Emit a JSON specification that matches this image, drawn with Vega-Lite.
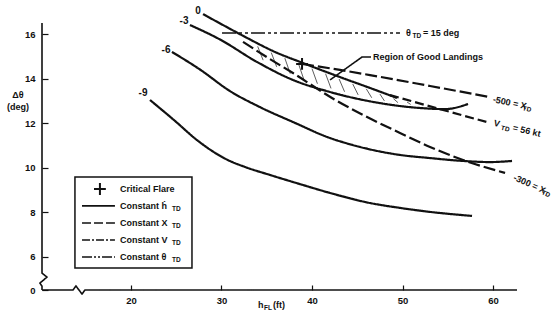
{
  "$schema": "https://vega.github.io/schema/vega-lite/v6.json",
  "width": 475,
  "height": 267,
  "autosize": {"type": "none"},
  "padding": {"left": 42, "top": 23, "right": 36, "bottom": 26},
  "background": "white",
  "config": {"view": {"stroke": null}},
  "datasets": {
    "curves": [
      {"id": "h0", "kind": "h", "x": 27.96, "y": 16.9},
      {"id": "h0", "kind": "h", "x": 31.16, "y": 16.19},
      {"id": "h0", "kind": "h", "x": 32.82, "y": 15.83},
      {"id": "h0", "kind": "h", "x": 35.91, "y": 15.2},
      {"id": "h0", "kind": "h", "x": 39.01, "y": 14.7},
      {"id": "h0", "kind": "h", "x": 43.09, "y": 14.07},
      {"id": "h0", "kind": "h", "x": 46.41, "y": 13.58},
      {"id": "h0", "kind": "h", "x": 49.39, "y": 13.13},
      {"id": "h3", "kind": "h", "x": 26.52, "y": 16.41},
      {"id": "h3", "kind": "h", "x": 29.83, "y": 15.76},
      {"id": "h3", "kind": "h", "x": 33.92, "y": 14.75},
      {"id": "h3", "kind": "h", "x": 37.9, "y": 13.94},
      {"id": "h3", "kind": "h", "x": 41.99, "y": 13.4},
      {"id": "h3", "kind": "h", "x": 47.51, "y": 12.9},
      {"id": "h3", "kind": "h", "x": 51.93, "y": 12.68},
      {"id": "h3", "kind": "h", "x": 54.7, "y": 12.63},
      {"id": "h3", "kind": "h", "x": 57.24, "y": 12.86},
      {"id": "h6", "kind": "h", "x": 24.53, "y": 15.2},
      {"id": "h6", "kind": "h", "x": 27.62, "y": 14.41},
      {"id": "h6", "kind": "h", "x": 30.94, "y": 13.44},
      {"id": "h6", "kind": "h", "x": 34.25, "y": 12.72},
      {"id": "h6", "kind": "h", "x": 38.12, "y": 12.01},
      {"id": "h6", "kind": "h", "x": 41.66, "y": 11.38},
      {"id": "h6", "kind": "h", "x": 45.3, "y": 10.93},
      {"id": "h6", "kind": "h", "x": 49.72, "y": 10.57},
      {"id": "h6", "kind": "h", "x": 53.04, "y": 10.43},
      {"id": "h6", "kind": "h", "x": 56.69, "y": 10.3},
      {"id": "h6", "kind": "h", "x": 59.67, "y": 10.25},
      {"id": "h6", "kind": "h", "x": 62.1, "y": 10.3},
      {"id": "h9", "kind": "h", "x": 22.1, "y": 13.04},
      {"id": "h9", "kind": "h", "x": 24.86, "y": 12.1},
      {"id": "h9", "kind": "h", "x": 27.29, "y": 11.24},
      {"id": "h9", "kind": "h", "x": 30.61, "y": 10.36},
      {"id": "h9", "kind": "h", "x": 32.6, "y": 10.03},
      {"id": "h9", "kind": "h", "x": 35.36, "y": 9.67},
      {"id": "h9", "kind": "h", "x": 38.67, "y": 9.26},
      {"id": "h9", "kind": "h", "x": 41.66, "y": 8.9},
      {"id": "h9", "kind": "h", "x": 46.41, "y": 8.41},
      {"id": "h9", "kind": "h", "x": 49.72, "y": 8.19},
      {"id": "h9", "kind": "h", "x": 53.04, "y": 8.01},
      {"id": "h9", "kind": "h", "x": 57.68, "y": 7.83},
      {"id": "x300", "kind": "x", "x": 32.38, "y": 15.65},
      {"id": "x300", "kind": "x", "x": 35.36, "y": 14.88},
      {"id": "x300", "kind": "x", "x": 37.9, "y": 14.25},
      {"id": "x300", "kind": "x", "x": 42.21, "y": 13.13},
      {"id": "x300", "kind": "x", "x": 45.86, "y": 12.32},
      {"id": "x300", "kind": "x", "x": 49.72, "y": 11.56},
      {"id": "x300", "kind": "x", "x": 53.04, "y": 10.93},
      {"id": "x300", "kind": "x", "x": 56.69, "y": 10.34},
      {"id": "x300", "kind": "x", "x": 61.33, "y": 9.76},
      {"id": "x500", "kind": "x", "x": 38.9, "y": 14.66},
      {"id": "x500", "kind": "x", "x": 43.09, "y": 14.39},
      {"id": "x500", "kind": "x", "x": 46.41, "y": 14.16},
      {"id": "x500", "kind": "x", "x": 53.04, "y": 13.67},
      {"id": "x500", "kind": "x", "x": 59.67, "y": 13.17},
      {"id": "v56", "kind": "v", "x": 48.62, "y": 13.26},
      {"id": "v56", "kind": "v", "x": 54.14, "y": 12.63},
      {"id": "v56", "kind": "v", "x": 59.67, "y": 12.01}
    ],
    "straight": [
      {"id": "ya", "kind": "h", "o": 1, "x": 10.17, "y": 16.5},
      {"id": "ya", "kind": "h", "o": 2, "x": 10.17, "y": 5.26},
      {"id": "ya", "kind": "h", "o": 3, "x": 10.72, "y": 5.08},
      {"id": "ya", "kind": "h", "o": 4, "x": 9.94, "y": 4.81},
      {"id": "ya", "kind": "h", "o": 5, "x": 10.17, "y": 4.67},
      {"id": "ya", "kind": "h", "o": 6, "x": 10.17, "y": 4.5},
      {"id": "xa", "kind": "h", "o": 1, "x": 10.17, "y": 4.5},
      {"id": "xa", "kind": "h", "o": 2, "x": 13.59, "y": 4.5},
      {"id": "xa", "kind": "h", "o": 3, "x": 13.92, "y": 4.68},
      {"id": "xa", "kind": "h", "o": 4, "x": 14.59, "y": 4.32},
      {"id": "xa", "kind": "h", "o": 5, "x": 14.92, "y": 4.5},
      {"id": "xa", "kind": "h", "o": 6, "x": 62.65, "y": 4.5},
      {"id": "ld", "kind": "h", "o": 1, "x": 41.99, "y": 13.94},
      {"id": "ld", "kind": "h", "o": 2, "x": 45.52, "y": 14.97},
      {"id": "ld", "kind": "h", "o": 3, "x": 46.52, "y": 14.97},
      {"id": "th", "kind": "t", "o": 1, "x": 30.06, "y": 16.05},
      {"id": "th", "kind": "t", "o": 2, "x": 49.72, "y": 16.05},
      {"id": "lh", "kind": "h", "o": 1, "x": 14.59, "y": 8.28},
      {"id": "lh", "kind": "h", "o": 2, "x": 18.23, "y": 8.28},
      {"id": "lx", "kind": "xl", "o": 1, "x": 14.59, "y": 7.51},
      {"id": "lx", "kind": "xl", "o": 2, "x": 18.23, "y": 7.51},
      {"id": "lv", "kind": "vl", "o": 1, "x": 14.59, "y": 6.75},
      {"id": "lv", "kind": "vl", "o": 2, "x": 18.23, "y": 6.75},
      {"id": "lt", "kind": "tl", "o": 1, "x": 14.59, "y": 5.98},
      {"id": "lt", "kind": "tl", "o": 2, "x": 18.23, "y": 5.98}
    ],
    "hatch": [
      {"x": 34.0, "y": 15.45, "x2": 34.6, "y2": 14.83},
      {"x": 35.5, "y": 15.17, "x2": 36.1, "y2": 14.53},
      {"x": 37.0, "y": 14.92, "x2": 37.6, "y2": 14.22},
      {"x": 38.5, "y": 14.68, "x2": 39.1, "y2": 13.96},
      {"x": 40.0, "y": 14.45, "x2": 40.6, "y2": 13.77},
      {"x": 41.5, "y": 14.22, "x2": 42.1, "y2": 13.56},
      {"x": 43.0, "y": 13.98, "x2": 43.6, "y2": 13.41},
      {"x": 44.5, "y": 13.76, "x2": 45.1, "y2": 13.27},
      {"x": 46.0, "y": 13.54, "x2": 46.6, "y2": 13.14},
      {"x": 47.5, "y": 13.31, "x2": 48.0, "y2": 13.0},
      {"x": 49.0, "y": 13.1, "x2": 49.5, "y2": 12.92},
      {"x": 50.5, "y": 12.95, "x2": 50.9, "y2": 12.84}
    ],
    "plus": [
      {"x": 38.9, "y": 14.66},
      {"x": 16.57, "y": 9.04}
    ],
    "box": [
      {"x": 13.81, "y": 9.58, "x2": 26.74, "y2": 5.49}
    ],
    "curveLabels": [
      {"x": 27.4, "y": 17.04, "t": "0"},
      {"x": 25.86, "y": 16.59, "t": "-3"},
      {"x": 23.87, "y": 15.29, "t": "-6"},
      {"x": 21.33, "y": 13.35, "t": "-9"}
    ],
    "textLeft": [
      {"x": 18.78, "y": 9.04, "t": "Critical Flare"},
      {"x": 18.78, "y": 8.28, "t": "Constant ḣ"},
      {"x": 18.78, "y": 7.51, "t": "Constant X"},
      {"x": 18.78, "y": 6.75, "t": "Constant V"},
      {"x": 18.78, "y": 5.98, "t": "Constant θ"},
      {"x": 50.39, "y": 16.05, "t": "θ"},
      {"x": 52.27, "y": 16.05, "t": "= 15 deg"},
      {"x": 46.74, "y": 14.97, "t": "Region of Good Landings"},
      {"x": 34.03, "y": 3.83, "t": "h"},
      {"x": 35.69, "y": 3.83, "t": "(ft)"}
    ],
    "textCenter": [
      {"x": 7.51, "y": 13.26, "t": "Δθ"},
      {"x": 7.51, "y": 12.72, "t": "(deg)"}
    ],
    "subs": [
      {"x": 24.53, "y": 8.14, "t": "TD"},
      {"x": 24.53, "y": 7.38, "t": "TD"},
      {"x": 24.53, "y": 6.61, "t": "TD"},
      {"x": 24.53, "y": 5.85, "t": "TD"},
      {"x": 51.1, "y": 15.92, "t": "TD"},
      {"x": 34.7, "y": 3.69, "t": "FL"}
    ],
    "rot12": [
      {"x": 60.0, "y": 13.08, "t": "-500 = X"}
    ],
    "rot12s": [
      {"x": 63.28, "y": 12.67, "t": "TD"}
    ],
    "rot13": [
      {"x": 60.11, "y": 12.01, "t": "V"},
      {"x": 62.2, "y": 11.8, "t": "= 56 kt"}
    ],
    "rot13s": [
      {"x": 60.89, "y": 11.79, "t": "TD"}
    ],
    "rot24": [
      {"x": 62.32, "y": 9.58, "t": "-300 = X"}
    ],
    "rot24s": [
      {"x": 65.41, "y": 8.9, "t": "TD"}
    ]
  },
  "encoding": {
    "x": {
      "field": "x", "type": "quantitative",
      "scale": {"domain": [10.17, 62.65], "nice": false, "zero": false},
      "axis": {
        "values": [20, 30, 40, 50, 60], "title": null, "domain": false, "grid": false,
        "tickSize": -5, "tickWidth": 1.2, "tickColor": "#111",
        "labelFont": "Liberation Sans", "labelFontSize": 9.5, "labelFontWeight": "bold",
        "labelColor": "#111", "labelPadding": 10
      }
    },
    "y": {
      "field": "y", "type": "quantitative",
      "scale": {"domain": [4.5, 16.5], "nice": false, "zero": false},
      "axis": {
        "values": [4.5, 6, 8, 10, 12, 14, 16], "title": null, "domain": false, "grid": false,
        "labelExpr": "datum.value < 5 ? '0' : datum.label",
        "tickSize": -6, "tickWidth": 1.2, "tickColor": "#111",
        "labelFont": "Liberation Sans", "labelFontSize": 9.5, "labelFontWeight": "bold",
        "labelColor": "#111", "labelPadding": 13
      }
    }
  },
  "layer": [
    {
      "data": {"name": "hatch"},
      "mark": {"type": "rule", "stroke": "#333", "strokeWidth": 0.8},
      "encoding": {"x2": {"field": "x2"}, "y2": {"field": "y2"}}
    },
    {
      "data": {"name": "box"},
      "mark": {"type": "rect", "fill": "white", "stroke": "#111", "strokeWidth": 1.5},
      "encoding": {"x2": {"field": "x2"}, "y2": {"field": "y2"}}
    },
    {
      "data": {"name": "curves"},
      "mark": {"type": "line", "interpolate": "monotone", "stroke": "#111", "strokeWidth": 2.2},
      "encoding": {
        "detail": {"field": "id"},
        "strokeDash": {
          "field": "kind", "type": "nominal", "legend": null,
          "scale": {"domain": ["h", "x", "v", "t", "xl", "vl", "tl"],
                    "range": [[1, 0], [12, 4], [9, 4], [14, 3, 3, 3, 3, 3], [9, 3], [8, 2, 2, 2], [10, 2, 2, 2, 2, 2]]}
        }
      }
    },
    {
      "data": {"name": "straight"},
      "mark": {"type": "line", "stroke": "#111", "strokeWidth": 1.6},
      "encoding": {
        "detail": {"field": "id"},
        "order": {"field": "o"},
        "strokeDash": {"field": "kind", "type": "nominal", "legend": null}
      }
    },
    {
      "data": {"name": "plus"},
      "mark": {"type": "point", "shape": "M-1,0L1,0M0,-1L0,1", "filled": false, "stroke": "#111", "strokeWidth": 2, "size": 140, "opacity": 1}
    },
    {
      "data": {"name": "curveLabels"},
      "mark": {"type": "text", "font": "Liberation Sans", "fontWeight": "bold", "fontSize": 10, "align": "center", "baseline": "middle", "color": "#111"},
      "encoding": {"text": {"field": "t"}}
    },
    {
      "data": {"name": "textLeft"},
      "mark": {"type": "text", "font": "Liberation Sans", "fontWeight": "bold", "fontSize": 9, "align": "left", "baseline": "middle", "color": "#111"},
      "encoding": {"text": {"field": "t"}}
    },
    {
      "data": {"name": "textCenter"},
      "mark": {"type": "text", "font": "Liberation Sans", "fontWeight": "bold", "fontSize": 9, "align": "center", "baseline": "middle", "color": "#111"},
      "encoding": {"text": {"field": "t"}}
    },
    {
      "data": {"name": "subs"},
      "mark": {"type": "text", "font": "Liberation Sans", "fontWeight": "bold", "fontSize": 6.5, "align": "left", "baseline": "middle", "color": "#111"},
      "encoding": {"text": {"field": "t"}}
    },
    {
      "data": {"name": "rot12"},
      "mark": {"type": "text", "font": "Liberation Sans", "fontWeight": "bold", "fontSize": 9, "align": "left", "baseline": "middle", "angle": 12, "color": "#111"},
      "encoding": {"text": {"field": "t"}}
    },
    {
      "data": {"name": "rot12s"},
      "mark": {"type": "text", "font": "Liberation Sans", "fontWeight": "bold", "fontSize": 6.5, "align": "left", "baseline": "middle", "angle": 12, "color": "#111"},
      "encoding": {"text": {"field": "t"}}
    },
    {
      "data": {"name": "rot13"},
      "mark": {"type": "text", "font": "Liberation Sans", "fontWeight": "bold", "fontSize": 9, "align": "left", "baseline": "middle", "angle": 13, "color": "#111"},
      "encoding": {"text": {"field": "t"}}
    },
    {
      "data": {"name": "rot13s"},
      "mark": {"type": "text", "font": "Liberation Sans", "fontWeight": "bold", "fontSize": 6.5, "align": "left", "baseline": "middle", "angle": 13, "color": "#111"},
      "encoding": {"text": {"field": "t"}}
    },
    {
      "data": {"name": "rot24"},
      "mark": {"type": "text", "font": "Liberation Sans", "fontWeight": "bold", "fontSize": 9, "align": "left", "baseline": "middle", "angle": 24, "color": "#111"},
      "encoding": {"text": {"field": "t"}}
    },
    {
      "data": {"name": "rot24s"},
      "mark": {"type": "text", "font": "Liberation Sans", "fontWeight": "bold", "fontSize": 6.5, "align": "left", "baseline": "middle", "angle": 24, "color": "#111"},
      "encoding": {"text": {"field": "t"}}
    }
  ]
}
